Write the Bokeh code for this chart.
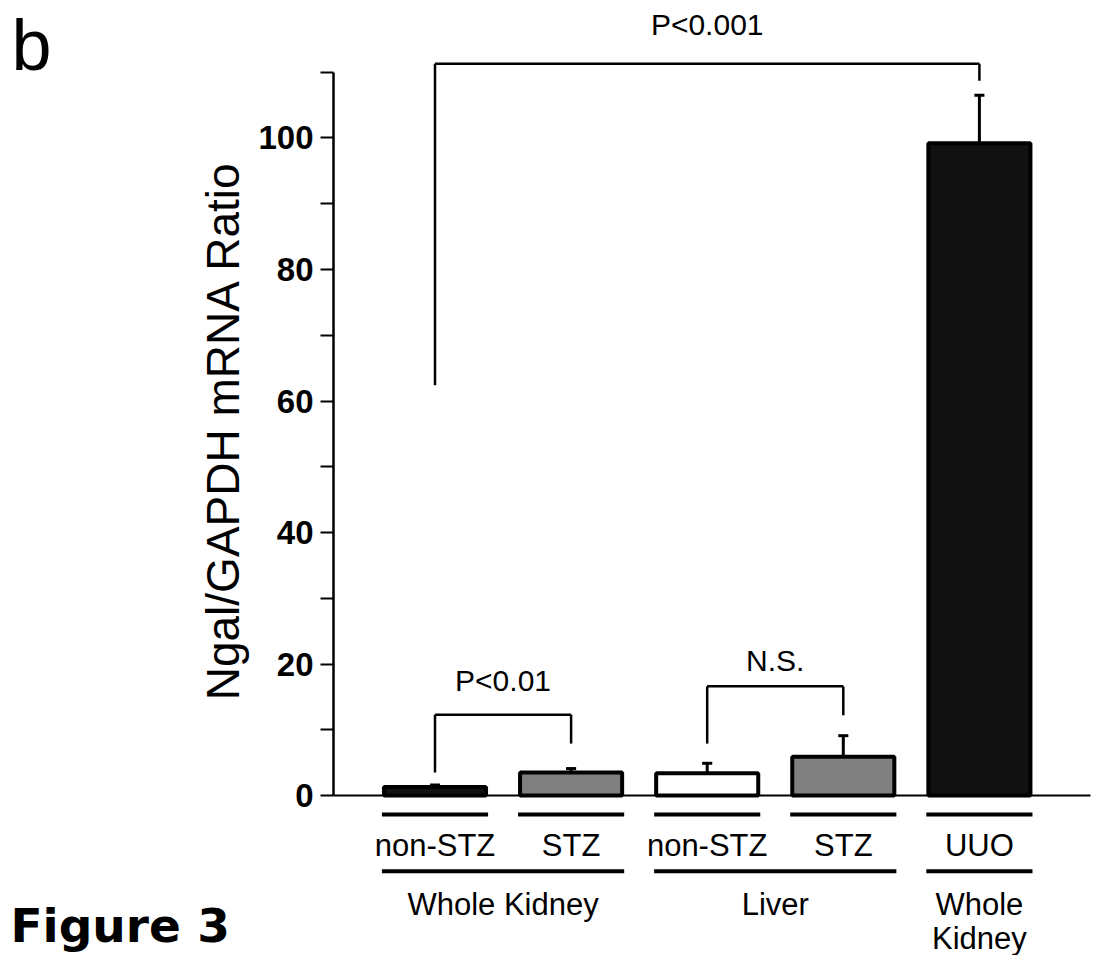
import math
from bokeh.plotting import figure
from bokeh.models import ColumnDataSource, Range1d, FixedTicker
from bokeh.core.properties import value
from bokeh.embed import file_html
from bokeh.resources import INLINE

# ---- data ----
categories = ["non-STZ", "STZ", "non-STZ", "STZ", "UUO"]
means = [1.3, 3.5, 3.4, 5.9, 99.2]
sem = [0.3, 0.6, 1.5, 3.2, 7.3]
bar_colors = ["#111111", "#808080", "#ffffff", "#808080", "#111111"]
group_lines = [["Whole Kidney"], ["Liver"], ["Whole", "Kidney"]]
group_members = [[0, 1], [2, 3], [4]]
comparisons = [(0, 1), (2, 3), (0, 4)]
comparison_labels = ["P<0.01", "N.S.", "P<0.001"]
bracket_tops = [12.3, 16.6, 111.3]
left_leg_ends = [3.5, 7.9, 62.4]
right_leg_ends = [7.9, 12.2, 108.7]
comparison_label_y = [17.5, 20.5, 117.3]
y_ticks = [0, 20, 40, 60, 80, 100]
y_minor_ticks = [10, 30, 50, 70, 90, 110]
y_axis_title = "Ngal/GAPDH mRNA Ratio"
panel_letter = "b"
figure_caption = "Figure 3"

FONT = value("Liberation Sans")
xs = list(range(len(categories)))
bar_w = 0.75
half_span = 0.39
axis_x = -0.7458

p = figure(width=1091, height=955, output_backend="svg", toolbar_location=None,
           x_axis_location=None, min_border=0, min_border_left=0, min_border_right=0,
           min_border_top=0, min_border_bottom=0,
           x_range=Range1d(-3.1925, 4.8237), y_range=Range1d(-24.33, 120.91))
p.outline_line_color = None
p.grid.visible = False
p.background_fill_color = "white"
p.border_fill_color = "white"

# y axis, drawn at a fixed x inside the plot
ax = p.yaxis[0]
ax.fixed_location = axis_x
ax.bounds = (0, 110)
ax.ticker = FixedTicker(ticks=y_ticks, minor_ticks=y_minor_ticks)
ax.axis_line_width = 2.5
ax.axis_line_color = "black"
ax.major_tick_out = 13
ax.major_tick_in = 0
ax.minor_tick_out = 13
ax.minor_tick_in = 0
ax.major_tick_line_width = 2
ax.minor_tick_line_width = 2
ax.major_tick_line_color = "black"
ax.minor_tick_line_color = "black"
ax.major_label_text_font = "Liberation Sans"
ax.major_label_text_font_style = "bold"
ax.major_label_text_font_size = "33px"
ax.major_label_text_color = "black"
ax.major_label_standoff = 7

# y title
p.text(x=[-1.5613], y=[55.5], text=[y_axis_title], angle=math.pi / 2,
       text_font=FONT, text_font_size="46px", text_align="center",
       text_baseline="middle", text_color="black")

# baseline (x axis line)
p.segment(x0=[axis_x], y0=[0], x1=[4.8163], y1=[0], line_color="black", line_width=2)

# bars
src = ColumnDataSource(dict(x=xs, top=means, color=bar_colors,
                            err=[m + s for m, s in zip(means, sem)]))
p.vbar(x="x", top="top", bottom=0, width=bar_w, source=src, fill_color="color",
       line_color="black", line_width=4)
# error bars
p.segment(x0="x", y0="top", x1="x", y1="err", source=src, line_color="black", line_width=3)
cap = 0.037
p.segment(x0=[x - cap for x in xs], y0=src.data["err"], x1=[x + cap for x in xs],
          y1=src.data["err"], line_color="black", line_width=3)

# brackets
bx0, by0, bx1, by1 = [], [], [], []
for (a, b), top, le, re in zip(comparisons, bracket_tops, left_leg_ends, right_leg_ends):
    bx0 += [xs[a], xs[a], xs[b]]
    bx1 += [xs[b], xs[a], xs[b]]
    by0 += [top, top, top]
    by1 += [top, le, re]
p.segment(x0=bx0, y0=by0, x1=bx1, y1=by1, line_color="black", line_width=2.5)
p.text(x=[(xs[a] + xs[b]) / 2 for a, b in comparisons], y=comparison_label_y,
       text=comparison_labels, text_font=FONT, text_font_size="30px",
       text_align="center", text_baseline="middle", text_color="black")

# category underlines and labels
p.segment(x0=[x - half_span for x in xs], y0=[-2.9] * len(xs),
          x1=[x + half_span for x in xs], y1=[-2.9] * len(xs),
          line_color="black", line_width=4)
p.text(x=xs, y=[-7.6] * len(xs), text=categories, text_font=FONT, text_font_size="31px",
       text_align="center", text_baseline="middle", text_color="black")

# group underlines and labels
gx0 = [xs[m[0]] - half_span for m in group_members]
gx1 = [xs[m[-1]] + half_span for m in group_members]
p.segment(x0=gx0, y0=[-11.5] * len(gx0), x1=gx1, y1=[-11.5] * len(gx0),
          line_color="black", line_width=4)
tx, ty, tt = [], [], []
for m, lines in zip(group_members, group_lines):
    cx = sum(xs[i] for i in m) / len(m)
    for k, line in enumerate(lines):
        tx.append(cx)
        ty.append(-16.6 - 5.2 * k)
        tt.append(line)
p.text(x=tx, y=ty, text=tt, text_font=FONT, text_font_size="31px",
       text_align="center", text_baseline="middle", text_color="black")

# panel letter and figure caption
p.text(x=[-3.1117], y=[114.2], text=[panel_letter], text_font=FONT,
       text_font_size="72px", text_align="left", text_baseline="middle",
       text_color="black")
p.text(x=[-3.1190], y=[-19.7], text=[figure_caption], text_font=value("DejaVu Sans"),
       text_font_style="bold", text_font_size="47px", text_align="left",
       text_baseline="middle", text_color="black")

open("out.html", "w").write(file_html(p, INLINE))
